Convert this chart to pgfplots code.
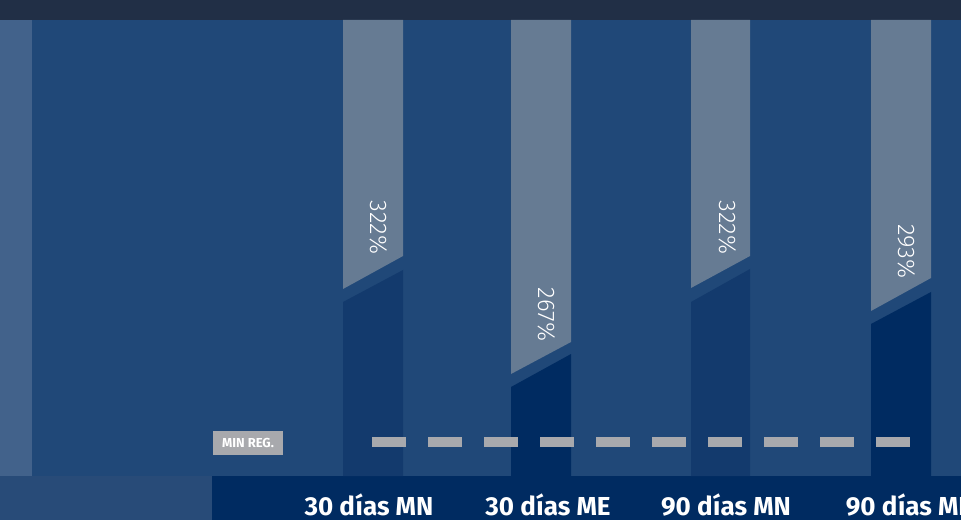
\documentclass[border=0pt]{standalone}
\usepackage{pgfplots}
\pgfplotsset{compat=1.18}
\usepackage{fontspec}
\setmainfont{Fira Sans}
\newfontfamily\lightfont{Fira Sans Light}

\definecolor{topband}{HTML}{212F46}
\definecolor{leftstrip}{HTML}{42628B}
\definecolor{bg}{HTML}{204878}
\definecolor{barlight}{HTML}{667B93}
\definecolor{barmid}{HTML}{133A6D}
\definecolor{bardark}{HTML}{002B61}
\definecolor{bandleft}{HTML}{284B78}
\definecolor{mingrey}{HTML}{A8A9AD}

\begin{document}
\begin{tikzpicture}
\begin{axis}[
  at={(0,0)}, anchor=south west,
  width=961pt, height=520pt, scale only axis,
  xmin=0, xmax=961, ymin=0, ymax=520,
  hide axis, clip=true,
]
% background
\fill[bg] (axis cs:0,0) rectangle (axis cs:961,520);
\fill[leftstrip] (axis cs:0,44) rectangle (axis cs:32,500);
\fill[topband] (axis cs:0,500) rectangle (axis cs:961,520);
\fill[bandleft] (axis cs:0,0) rectangle (axis cs:212,44);
\fill[bardark] (axis cs:212,0) rectangle (axis cs:961,44);

% 30 dias MN  (322%)
\addplot[fill=barlight, draw=none] coordinates {(343,500)(403,500)(403,264)(343,231)} -- cycle;
\addplot[fill=barmid, draw=none] coordinates {(343,44)(403,44)(403,250)(343,218)} -- cycle;
% 30 dias ME  (267%)
\addplot[fill=barlight, draw=none] coordinates {(511,500)(571,500)(571,178)(511,146)} -- cycle;
\addplot[fill=bardark, draw=none] coordinates {(511,44)(571,44)(571,166)(511,133)} -- cycle;
% 90 dias MN  (322%)
\addplot[fill=barlight, draw=none] coordinates {(691,500)(750,500)(750,264)(691,232)} -- cycle;
\addplot[fill=barmid, draw=none] coordinates {(691,44)(750,44)(750,251)(691,218)} -- cycle;
% 90 dias ME  (293%)
\addplot[fill=barlight, draw=none] coordinates {(871,500)(931,500)(931,242)(871,209)} -- cycle;
\addplot[fill=bardark, draw=none] coordinates {(871,44)(931,44)(931,228)(871,196)} -- cycle;

% minimo regulatorio
\addplot[draw=mingrey, line width=10pt, dash pattern=on 34pt off 22pt] coordinates {(372,78.5)(910,78.5)};
\node[fill=mingrey, text=white, font=\bfseries\fontsize{13}{14}\selectfont,
  minimum width=70pt, minimum height=24pt, inner sep=0pt]
  at (axis cs:248,77) {MIN REG.};

% value labels
\tikzset{pct/.style={rotate=-90, text=white, font=\lightfont\fontsize{24}{25}\selectfont, inner sep=0pt}}
\node[pct] at (axis cs:379,292.5) {322\%};
\node[pct] at (axis cs:547,205.5) {267\%};
\node[pct] at (axis cs:728,292.5) {322\%};
\node[pct] at (axis cs:907,268.5) {293\%};

% category labels
\tikzset{cat/.style={anchor=base, text=white, font=\bfseries\fontsize{26}{28}\selectfont, inner sep=0pt}}
\node[cat] at (axis cs:369,5) {30 días MN};
\node[cat] at (axis cs:548,5) {30 días ME};
\node[cat] at (axis cs:726,5) {90 días MN};
\node[cat] at (axis cs:909,5) {90 días ME};
\end{axis}
\pgfresetboundingbox
\useasboundingbox (0,0) rectangle (961pt,520pt);
\end{tikzpicture}
\end{document}
